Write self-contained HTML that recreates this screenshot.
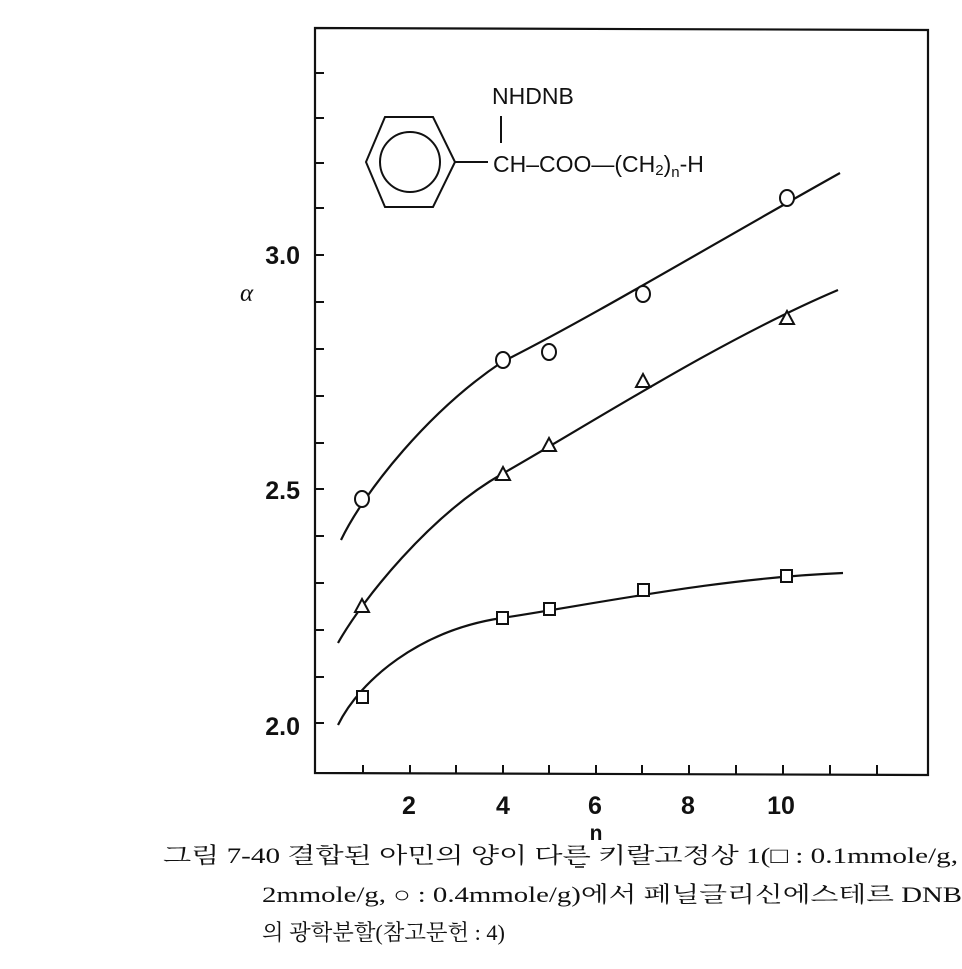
<!DOCTYPE html>
<html><head><meta charset="utf-8"><style>
html,body{margin:0;padding:0;background:#fff}
</style></head><body>
<svg width="962" height="964" xmlns="http://www.w3.org/2000/svg">
<g fill="none" stroke="#111" stroke-width="2.2">
<path d="M315,28 L928,30 L928,775 L315,773 Z"/>
</g>
<g stroke="#111" stroke-width="2">
<line x1="315" y1="73" x2="324" y2="73"/>
<line x1="315" y1="118" x2="324" y2="118"/>
<line x1="315" y1="163" x2="324" y2="163"/>
<line x1="315" y1="208" x2="324" y2="208"/>
<line x1="315" y1="255" x2="324" y2="255"/>
<line x1="315" y1="302" x2="324" y2="302"/>
<line x1="315" y1="349" x2="324" y2="349"/>
<line x1="315" y1="396" x2="324" y2="396"/>
<line x1="315" y1="443" x2="324" y2="443"/>
<line x1="315" y1="489" x2="324" y2="489"/>
<line x1="315" y1="536" x2="324" y2="536"/>
<line x1="315" y1="583" x2="324" y2="583"/>
<line x1="315" y1="630" x2="324" y2="630"/>
<line x1="315" y1="677" x2="324" y2="677"/>
<line x1="315" y1="723" x2="324" y2="723"/>
<line x1="363" y1="765" x2="363" y2="774"/>
<line x1="410" y1="765" x2="410" y2="774"/>
<line x1="456" y1="765" x2="456" y2="774"/>
<line x1="503" y1="765" x2="503" y2="774"/>
<line x1="549" y1="765" x2="549" y2="774"/>
<line x1="596" y1="765" x2="596" y2="774"/>
<line x1="642" y1="765" x2="642" y2="774"/>
<line x1="689" y1="765" x2="689" y2="774"/>
<line x1="736" y1="765" x2="736" y2="774"/>
<line x1="783" y1="765" x2="783" y2="774"/>
<line x1="830" y1="765" x2="830" y2="774"/>
<line x1="877" y1="765" x2="877" y2="774"/>
</g>
<g font-family="Liberation Sans, sans-serif" font-weight="bold" font-size="25" fill="#111">
<text x="300" y="264" text-anchor="end">3.0</text>
<text x="300" y="499" text-anchor="end">2.5</text>
<text x="300" y="735" text-anchor="end">2.0</text>
<text x="409" y="814" text-anchor="middle">2</text>
<text x="503" y="814" text-anchor="middle">4</text>
<text x="595" y="814" text-anchor="middle">6</text>
<text x="688" y="814" text-anchor="middle">8</text>
<text x="781" y="814" text-anchor="middle">10</text>
<text x="596" y="840" text-anchor="middle" font-size="21">n</text>
</g>
<text x="240" y="301" font-family="Liberation Serif, serif" font-style="italic" font-size="25" fill="#111">α</text>
<g fill="none" stroke="#111" stroke-width="2">
<polygon points="366,162 385,117 433,117 455,162 433,207 385,207"/>
<circle cx="410" cy="162" r="30"/>
<line x1="455" y1="162" x2="488" y2="162"/>
<line x1="501" y1="116" x2="501" y2="143"/>
</g>
<g font-family="Liberation Sans, sans-serif" font-size="23" fill="#111">
<text x="492" y="104">NHDNB</text>
<text x="493" y="172">CH–COO—(CH<tspan font-size="15" dy="3">2</tspan><tspan dy="-3">)</tspan><tspan font-size="15" dy="5">n</tspan><tspan dy="-5">-H</tspan></text>
</g>
<g fill="none" stroke="#111" stroke-width="2.2">
<path d="M341,540 C365,490 430,410 502,362 C590,318 720,240 840,173"/>
<path d="M338,643 C362,600 430,515 502,474 C590,424 720,340 838,290"/>
<path d="M338,725 C360,680 420,630 502,618 C600,603 720,578 843,573"/>
</g>
<g fill="#fff" stroke="#111" stroke-width="2">
<ellipse cx="362" cy="499" rx="7" ry="8"/>
<ellipse cx="503" cy="360" rx="7" ry="8"/>
<ellipse cx="549" cy="352" rx="7" ry="8"/>
<ellipse cx="643" cy="294" rx="7" ry="8"/>
<ellipse cx="787" cy="198" rx="7" ry="8"/>
<polygon points="362,599 369,612 355,612"/>
<polygon points="503,467 510,480 496,480"/>
<polygon points="549,438 556,451 542,451"/>
<polygon points="643,374 650,387 636,387"/>
<polygon points="787,311 794,324 780,324"/>
<rect x="357" y="691" width="11" height="12"/>
<rect x="497" y="612" width="11" height="12"/>
<rect x="544" y="603" width="11" height="12"/>
<rect x="638" y="584" width="11" height="12"/>
<rect x="781" y="570" width="11" height="12"/>
</g>
<g font-family="Liberation Serif, 'Noto Serif CJK SC', 'Noto Sans CJK KR', serif" font-size="22" fill="#111">
<text x="163" y="863" textLength="795" lengthAdjust="spacingAndGlyphs">그림 7-40  결합된  아민의  양이  다른  키랄고정상  1(□ : 0.1mmole/g,</text>
<text x="262" y="902" textLength="700" lengthAdjust="spacingAndGlyphs">2mmole/g, ○ : 0.4mmole/g)에서  페닐글리신에스테르  DNB</text>
<text x="262" y="940" textLength="243" lengthAdjust="spacingAndGlyphs">의 광학분할(참고문헌 : 4)</text>
</g>
<line x1="575" y1="867" x2="584" y2="867" stroke="#111" stroke-width="1.5"/>
</svg>
</body></html>
